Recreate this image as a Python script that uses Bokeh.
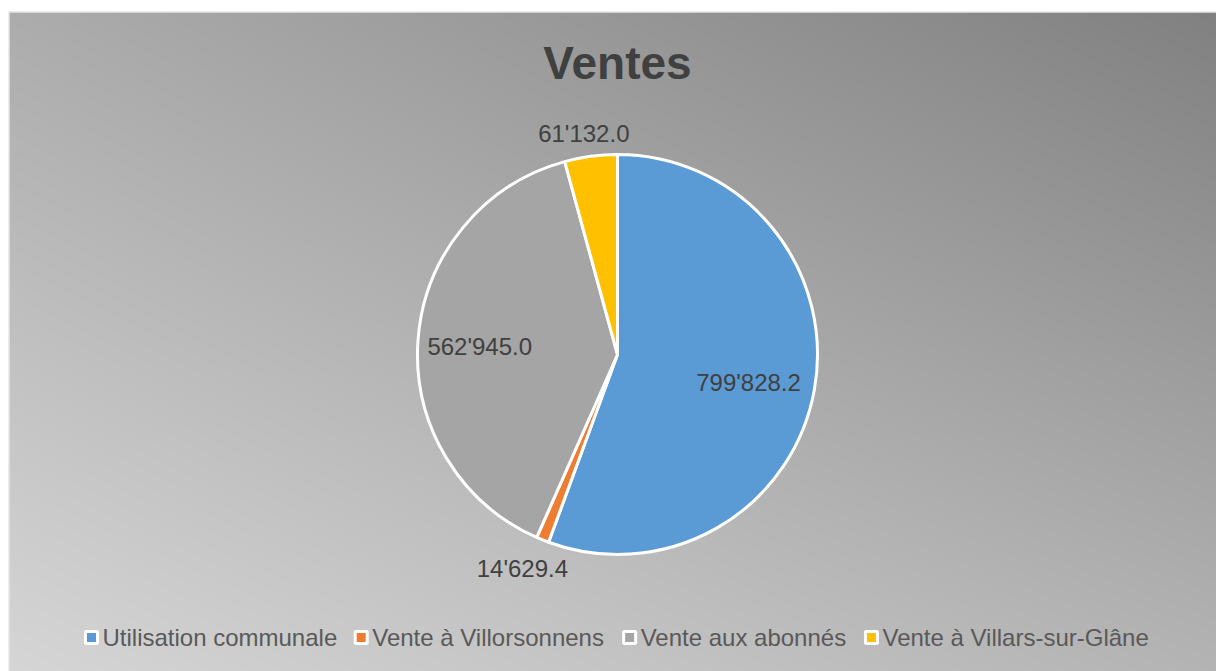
import math
import numpy as np
from bokeh.plotting import figure
from bokeh.models import Range1d
from bokeh.core.properties import value
from bokeh.embed import file_html
from bokeh.resources import INLINE

# ---- data ----
title = "Ventes"
categories = ["Utilisation communale", "Vente à Villorsonnens", "Vente aux abonnés", "Vente à Villars-sur-Glâne"]
values = [799828.2, 14629.4, 562945.0, 61132.0]
colors = ["#5b9bd5", "#ed7d31", "#a5a5a5", "#ffc000"]

# ---- style ----
label_radius = [0.67, 1.17, 0.69, 1.12]
label_angle_offset = [2.0, 2.0, -1.0, -1.0]
FONT = "Liberation Sans"
PAGE_H = 671
W, H = 1216, 671
OX, OY = 0, 0  # page offset of the figure

def Y(py):
    return PAGE_H - py

p = figure(width=W, height=H, output_backend="svg", toolbar_location=None,
           x_range=Range1d(OX, OX + W), y_range=Range1d(Y(OY + H), Y(OY)),
           x_axis_location=None, y_axis_location=None, min_border=0,
           background_fill_color="white", border_fill_color="white")
p.grid.visible = False
p.outline_line_color = None

# gradient background
x0, x1 = 9, OX + W
y0p, y1p = 12, OY + H
nx, ny = 304, 165
img = np.empty((ny, nx), dtype=np.uint32)
view = img.view(dtype=np.uint8).reshape((ny, nx, 4))
px = x0 + (np.arange(nx) + 0.5) * (x1 - x0) / nx
dh = y1p - y0p
dy_data = Y(y1p) + (np.arange(ny) + 0.5) * dh / ny
py = PAGE_H - dy_data
u = (px / 1216.0)[None, :]
v = (py / 671.0)[:, None]
TL, TR, BL, BR = 172.0, 128.0, 214.0, 180.0
val = TL * (1 - u) * (1 - v) + TR * u * (1 - v) + BL * (1 - u) * v + BR * u * v
val = np.clip(val, 0, 255).astype(np.uint8)
view[:, :, 0] = val
view[:, :, 1] = val
view[:, :, 2] = val
view[:, :, 3] = 255
p.image_rgba(image=[img], x=x0, y=Y(y1p), dw=x1 - x0, dh=dh)
p.quad(left=8.5, right=1300, top=Y(11.5), bottom=-50, fill_color=None, line_color="#d9d9d9", line_width=1)

# title
p.text(x=[617], y=[Y(62)], text=[title], text_font=value(FONT), text_font_size="46px",
       text_font_style="bold", text_color="#404040", text_align="center", text_baseline="middle")

# pie
cx, cy, r = 617, Y(354), 200
total = sum(values)
starts, ends, mids = [], [], []
cum = 0.0
for vv in values:
    a0 = math.pi / 2 - 2 * math.pi * cum
    cum += vv / total
    a1 = math.pi / 2 - 2 * math.pi * cum
    starts.append(a1)
    ends.append(a0)
    mids.append((a0 + a1) / 2)
p.wedge(x=cx, y=cy, radius=r, start_angle=starts, end_angle=ends, fill_color=colors,
        line_color="white", line_width=3)

lx, ly, lt = [], [], []
for i, vv in enumerate(values):
    a = mids[i] - math.radians(label_angle_offset[i])
    rr = r * label_radius[i]
    lx.append(cx + rr * math.cos(a))
    ly.append(cy + rr * math.sin(a))
    lt.append(f"{vv:,.1f}".replace(",", "'"))
p.text(x=lx, y=ly, text=lt, text_font=value(FONT), text_font_size="24px",
       text_color="#404040", text_align="center", text_baseline="middle")

# legend (manual)
aw = {' ': 278, 'a': 556, 'b': 556, 'c': 500, 'e': 556, 'é': 556, 'à': 556, 'â': 556, 'i': 222,
      'l': 222, 'm': 833, 'n': 556, 'o': 556, 'r': 333, 's': 500, 't': 278, 'u': 556, 'x': 500,
      'U': 722, 'V': 667, 'G': 778, '-': 333}
fs = 24
def tw(s):
    return sum(aw.get(c, 556) for c in s) / 1000.0 * fs
entry_w = [18 + tw(c) for c in categories]
gap = 17
total_w = sum(entry_w) + gap * (len(categories) - 1)
xs = 617 - total_w / 2
mx, tx = [], []
for i, c in enumerate(categories):
    mx.append(xs + 7)
    tx.append(xs + 18)
    xs += entry_w[i] + gap
leg_y = Y(637)
p.scatter(x=mx, y=[leg_y] * 4, marker="square", size=12, fill_color=colors,
          line_color="white", line_width=3)
p.text(x=tx, y=[leg_y] * 4, text=categories, text_font=value(FONT), text_font_size="24px",
       text_color="#595959", text_align="left", text_baseline="middle")

open("out.html", "w").write(file_html(p, INLINE))
